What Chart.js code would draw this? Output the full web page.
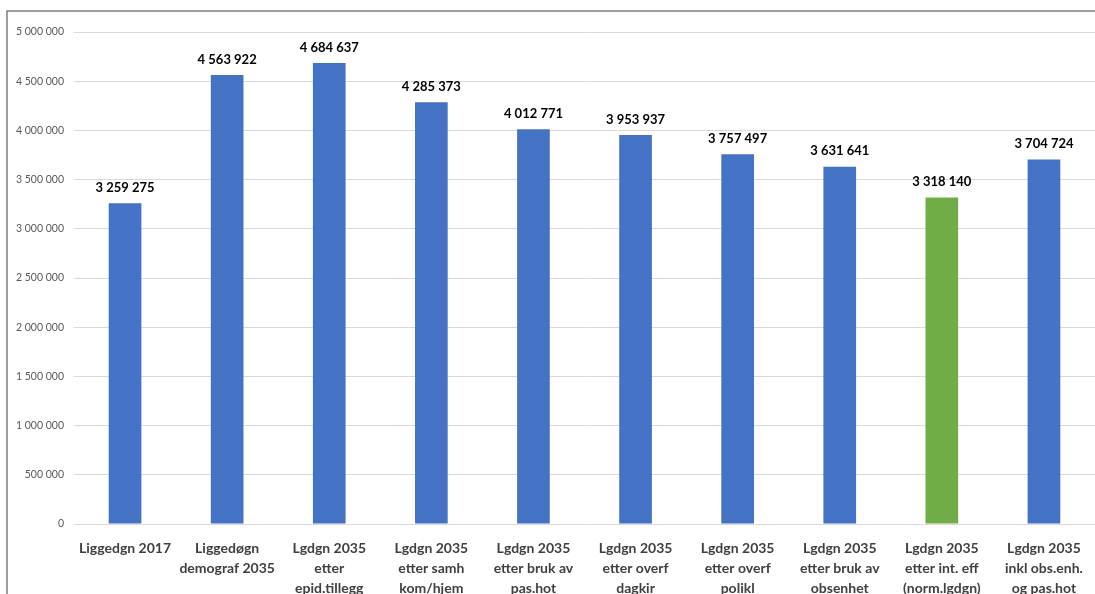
<!DOCTYPE html>
<html>
<head>
<meta charset="utf-8">
<script src="https://cdn.jsdelivr.net/npm/chart.js@4"></script>
<style>
  html, body { margin: 0; padding: 0; background: #fff; }
  #wrap { width: 1095px; height: 594px; position: relative; }
</style>
</head>
<body>
<div id="wrap"><canvas id="myChart" width="1095" height="594"></canvas></div>
<script>
var categoryLabels = [
	["Liggedgn 2017"],
	["Liggedøgn", "demograf 2035"],
	["Lgdgn 2035", "etter", "epid.tillegg"],
	["Lgdgn 2035", "etter samh", "kom/hjem"],
	["Lgdgn 2035", "etter bruk av", "pas.hot"],
	["Lgdgn 2035", "etter overf", "dagkir"],
	["Lgdgn 2035", "etter overf", "polikl"],
	["Lgdgn 2035", "etter bruk av", "obsenhet"],
	["Lgdgn 2035", "etter int. eff", "(norm.lgdgn)"],
	["Lgdgn 2035", "inkl obs.enh.", "og pas.hot"]
];

var bedDays = [3259275, 4563922, 4684637, 4285373, 4012771, 3953937, 3757497, 3631641, 3318140, 3704724];

var barColors = ["#4472c4", "#4472c4", "#4472c4", "#4472c4", "#4472c4", "#4472c4", "#4472c4", "#4472c4", "#70ad47", "#4472c4"];

var yMax = 5000000;
var yStep = 500000;

function formatNumber(n) {
	return String(n).replace(/\B(?=(\d{3})+(?!\d))/g, " ");
}

// draws the bold value above each bar
var valueLabels = {
	id: 'valueLabels',
	afterDatasetsDraw: function (chart) {
		var ctx = chart.ctx;
		var meta = chart.getDatasetMeta(0);
		ctx.save();
		ctx.font = "bold 13px Lato, 'Liberation Sans', sans-serif";
		ctx.fillStyle = "#000";
		ctx.textAlign = "center";
		ctx.textBaseline = "bottom";
		for (var i = 0; i < meta.data.length; i++) {
			var bar = meta.data[i];
			ctx.fillText(formatNumber(bedDays[i]), bar.x, bar.y - 9);
		}
		ctx.restore();
	}
};

// frame line left and top
var frame = {
	id: 'frame',
	afterDraw: function (chart) {
		var ctx = chart.ctx;
		ctx.save();
		ctx.strokeStyle = "#7f7f7f";
		ctx.lineWidth = 1.5;
		ctx.beginPath();
		ctx.moveTo(7, 594);
		ctx.lineTo(7, 11);
		ctx.lineTo(1095, 11);
		ctx.stroke();
		ctx.restore();
	}
};

var chart = document.getElementById("myChart").getContext('2d');
var myChart = new Chart(chart, {
	type: 'bar',
	data: {
		labels: categoryLabels,
		datasets: [{
			data: bedDays,
			backgroundColor: barColors,
			barPercentage: 0.32,
			categoryPercentage: 1.0
		}]
	},
	options: {
		responsive: false,
		animation: false,
		layout: { padding: { top: 32, right: 0, bottom: 0, left: 0 } },
		plugins: {
			legend: { display: false },
			tooltip: { enabled: false }
		},
		scales: {
			x: {
				grid: { display: false },
				border: { display: false },
				ticks: {
					color: "#404040",
					font: { family: "Lato, 'Liberation Sans', sans-serif", size: 14, weight: 'bold', lineHeight: 1.43 },
					padding: 6,
					maxRotation: 0,
					autoSkip: false
				},
				afterFit: function (scale) { scale.height = 70; }
			},
			y: {
				min: 0,
				max: yMax,
				grid: { color: "#d9d9d9", drawTicks: false },
				border: { display: false },
				ticks: {
					stepSize: yStep,
					color: "#595959",
					padding: 10,
					font: { family: "Lato, 'Liberation Sans', sans-serif", size: 10.5 },
					callback: function (v) { return formatNumber(v); }
				},
				afterFit: function (scale) { scale.width = 74; }
			}
		}
	},
	plugins: [valueLabels, frame]
});
</script>
</body>
</html>
